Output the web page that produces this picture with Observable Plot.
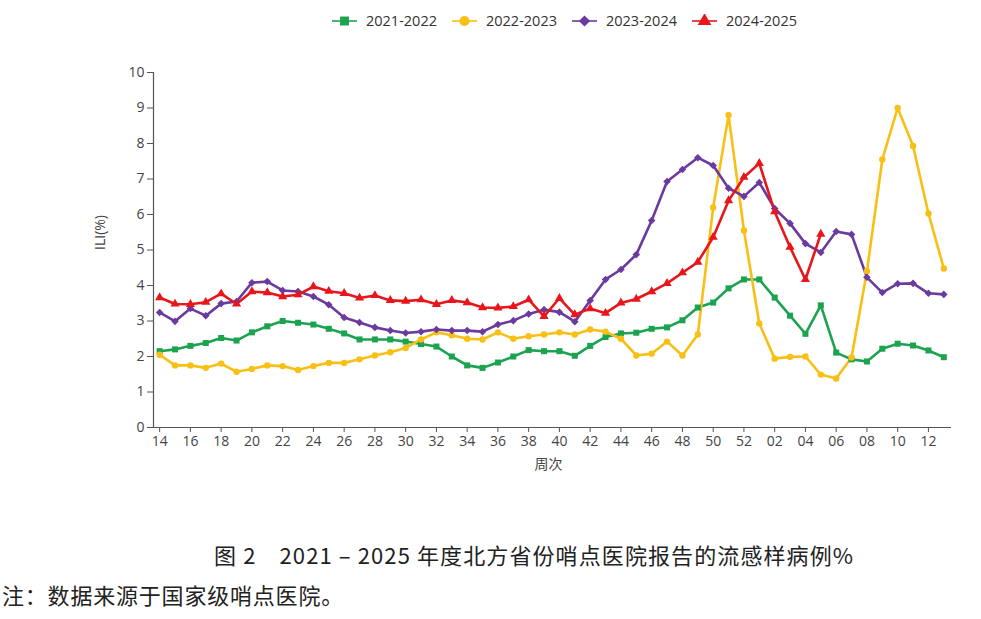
<!DOCTYPE html>
<html>
<head>
<meta charset="utf-8">
<script src="https://cdn.jsdelivr.net/npm/d3@7"></script>
<script src="https://cdn.jsdelivr.net/npm/@observablehq/plot@0.6"></script>
<style>
  html, body { margin: 0; padding: 0; background: #fff; }
  #wrap { position: relative; width: 981px; height: 619px; overflow: hidden; font-family: "Open Sans", "Noto Sans", sans-serif; }
  #chart { position: absolute; left: 0; top: 0; }
  #legend { position: absolute; top: 11px; left: 332px; display: flex; align-items: center; font-size: 14.5px; color: #333; white-space: nowrap; }
  #legend .item { display: flex; align-items: center; margin-right: 15px; }
  #legend svg { margin-right: 9px; }
  .cap { position: absolute; font-family: "Noto Sans CJK SC", sans-serif; color: #222; white-space: nowrap; }
</style>
</head>
<body>
<div id="wrap">
  <div id="chart"></div>
  <div id="legend"></div>
  <div class="cap" id="title" style="left:214px; top:538px; font-size:22px; letter-spacing:1.1px;"></div>
  <div class="cap" id="note" style="left:2px; top:578px; font-size:22px; letter-spacing:0.8px;"></div>
</div>
<script>
// ---- data ----
const weeks = ["14","15","16","17","18","19","20","21","22","23","24","25","26","27","28","29","30","31","32","33","34","35","36","37","38","39","40","41","42","43","44","45","46","47","48","49","50","51","52","01","02","03","04","05","06","07","08","09","10","11","12","13"];
const tickWeeks = ["14","16","18","20","22","24","26","28","30","32","34","36","38","40","42","44","46","48","50","52","02","04","06","08","10","12"];
const seasons = ["2021-2022","2022-2023","2023-2024","2024-2025"];
const colors = ["#1ba34f","#f8bf14","#6a3a9f","#e8151b"];
const symbols = ["square","circle","diamond2","triangle"];

const s2021 = [2.15,2.2,2.3,2.38,2.52,2.45,2.68,2.85,3.0,2.95,2.9,2.78,2.65,2.48,2.48,2.48,2.42,2.35,2.28,2.0,1.75,1.68,1.83,2.0,2.18,2.15,2.15,2.02,2.3,2.55,2.65,2.67,2.78,2.82,3.02,3.38,3.52,3.92,4.17,4.17,3.66,3.15,2.64,3.44,2.11,1.92,1.86,2.22,2.36,2.31,2.17,1.98];
const s2022 = [2.05,1.75,1.75,1.68,1.8,1.57,1.65,1.75,1.73,1.62,1.73,1.82,1.82,1.92,2.03,2.12,2.24,2.48,2.68,2.6,2.5,2.48,2.68,2.5,2.57,2.62,2.68,2.62,2.76,2.7,2.5,2.03,2.08,2.42,2.03,2.62,6.2,8.8,5.55,2.93,1.94,1.99,2.0,1.49,1.38,1.97,4.4,7.55,9.0,7.93,6.03,4.48];
const s2023 = [3.24,2.99,3.35,3.15,3.49,3.55,4.08,4.11,3.86,3.83,3.69,3.46,3.1,2.96,2.82,2.73,2.66,2.7,2.76,2.73,2.73,2.7,2.9,3.01,3.2,3.32,3.25,2.98,3.58,4.17,4.45,4.87,5.83,6.93,7.27,7.6,7.38,6.74,6.51,6.9,6.17,5.75,5.18,4.93,5.52,5.44,4.23,3.8,4.05,4.06,3.78,3.75];
const s2024 = [3.66,3.48,3.47,3.53,3.77,3.48,3.83,3.8,3.69,3.74,3.97,3.84,3.78,3.65,3.72,3.58,3.56,3.6,3.47,3.58,3.52,3.38,3.37,3.41,3.6,3.13,3.64,3.18,3.35,3.22,3.51,3.62,3.83,4.06,4.36,4.66,5.36,6.39,7.05,7.44,6.08,5.08,4.17,5.45];
const seriesValues = [s2021, s2022, s2023, s2024];

const titleText = "图 2\u30002021 – 2025 年度北方省份哨点医院报告的流感样病例%";
const noteText = "注：数据来源于国家级哨点医院。";
const xLabel = "周次";
const yLabel = "ILI(%)";

// ---- build ----
const rows = seriesValues.map((vals, k) => vals.map((v, i) => ({i, v, season: seasons[k]})));
const tickIdx = tickWeeks.map(w => weeks.indexOf(w));

const marks = [];
rows.forEach((data, k) => {
  marks.push(Plot.line(data, {x: "i", y: "v", stroke: colors[k], strokeWidth: 2.6}));
});
rows.forEach((data, k) => {
  marks.push(Plot.dot(data, {x: "i", y: "v", symbol: symbols[k], fill: colors[k], r: k === 1 ? 3.2 : 3.4}));
});

const plot = Plot.plot({
  width: 981,
  height: 480,
  marginTop: 72,
  marginBottom: 53,
  marginLeft: 153,
  marginRight: 30,
  style: {fontSize: "14px", fontFamily: "'Open Sans', sans-serif", color: "#444", background: "transparent"},
  x: {domain: [-0.4, 51.5]},
  y: {domain: [0, 10]},
  marks: [
    Plot.ruleY([0], {stroke: "#555", strokeWidth: 1.2}),
    Plot.ruleX([-0.4], {stroke: "#555", strokeWidth: 1.2}),
    Plot.axisY({ticks: d3.range(0, 11), tickSize: 6, label: null, stroke: "#555"}),
    Plot.axisX({ticks: tickIdx, tickFormat: i => weeks[i], tickSize: 5, label: null, stroke: "#555"}),
    Plot.text([yLabel], {frameAnchor: "left", dx: -53, rotate: -90, fontSize: 14, fill: "#444"}),
    Plot.text([xLabel], {frameAnchor: "bottom", dy: 41, dx: -4, fontSize: 14, fill: "#444", fontFamily: "'Noto Sans CJK SC', sans-serif"}),
    ...marks
  ]
});
document.getElementById("chart").appendChild(plot);

// legend
const legend = document.getElementById("legend");
const d3sym = {square: d3.symbolSquare, circle: d3.symbolCircle, diamond2: d3.symbolDiamond2, triangle: d3.symbolTriangle};
seasons.forEach((s, k) => {
  const item = document.createElement("div");
  item.className = "item";
  const svg = d3.create("svg").attr("width", 25).attr("height", 14);
  svg.append("line").attr("x1", 0).attr("x2", 25).attr("y1", 7).attr("y2", 7).attr("stroke", colors[k]).attr("stroke-width", 1.6);
  svg.append("path").attr("transform", "translate(12.5,7)").attr("d", d3.symbol(d3sym[symbols[k]], 80)()).attr("fill", colors[k]);
  item.appendChild(svg.node());
  const t = document.createElement("span");
  t.textContent = s;
  item.appendChild(t);
  legend.appendChild(item);
});
document.getElementById("title").textContent = titleText;
document.getElementById("note").textContent = noteText;
</script>
</body>
</html>
